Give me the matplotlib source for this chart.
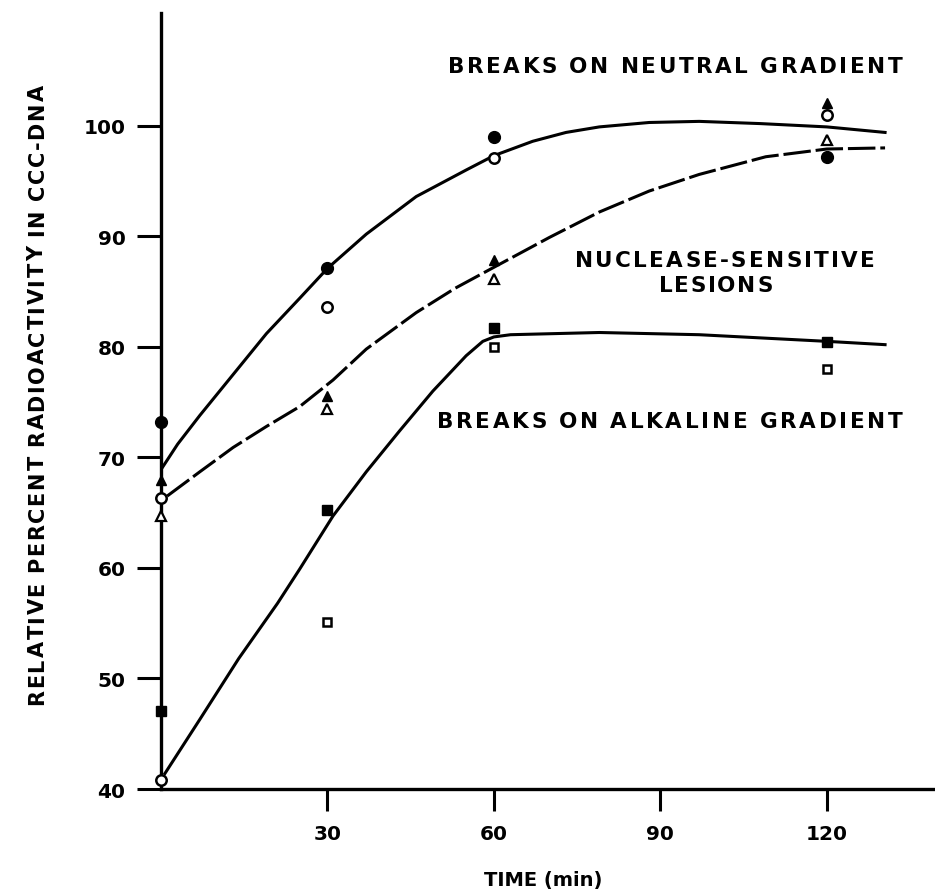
import matplotlib.pyplot as plt

# measured points (time in min, relative percent radioactivity)
t_pts = [0, 30, 60, 120]
neutral_filled = [73.2, 87.1, 99.0, 97.2]
neutral_open = [66.3, 83.6, 97.1, 101.0]
nuclease_filled = [68.0, 75.6, 87.9, 102.1]
nuclease_open = [64.7, 74.4, 86.1, 98.7]
alkaline_filled = [47.1, 65.2, 81.7, 80.4]
alkaline_open = [40.8, 55.1, 80.0, 78.0]

# hand-drawn fitted curves
neutral_t = [0, 3, 7, 13, 19, 25, 30, 37, 46, 55, 60, 67, 73, 79, 88, 97, 108, 120, 130.5]
neutral_y = [68.9, 71.2, 73.8, 77.5, 81.2, 84.4, 87.1, 90.2, 93.6, 96.0, 97.3, 98.6, 99.4,
             99.9, 100.3, 100.4, 100.2, 99.9, 99.4]
nuclease_t = [1.1, 7, 13, 19, 25, 31, 37, 46, 53, 60, 70, 79, 88, 97, 109, 120, 130.5]
nuclease_y = [66.5, 68.7, 70.9, 72.8, 74.6, 77.0, 79.8, 83.1, 85.3, 87.2, 89.9, 92.2, 94.1,
              95.6, 97.2, 97.9, 98.0]
alkaline_t = [0.7, 7, 14, 21, 25, 31, 37, 43, 49, 55, 58, 60, 63, 79, 97, 120, 130.5]
alkaline_y = [41.4, 46.3, 51.8, 56.8, 59.9, 64.7, 68.7, 72.4, 76.0, 79.2, 80.5, 80.9, 81.1,
              81.3, 81.1, 80.5, 80.2]

xticks = [30, 60, 90, 120]
yticks = [40, 50, 60, 70, 80, 90, 100]

plt.rcParams['font.family'] = 'DejaVu Sans'
plt.rcParams['font.weight'] = 'bold'

fig = plt.figure(figsize=(9.35, 8.95), dpi=100)
ax = fig.add_axes([0.1722, 0.1173, 0.8278, 0.867])
renderer = fig.canvas.get_renderer()


def spaced(x, y, s, length_px, size, ha='left', rotation=0, coords='data'):
    # letter-spaced text: each character placed by hand so the string spans length_px
    widths = []
    for c in s:
        if c == ' ':
            widths.append(0.32 * size * fig.dpi / 72)
            continue
        t = fig.text(0, 0, c, fontsize=size, fontweight='bold')
        widths.append(t.get_window_extent(renderer).width)
        t.remove()
    gap = (length_px - sum(widths)) / (len(s) - 1)
    pos = {'left': 0, 'center': -length_px / 2, 'right': -length_px}[ha]
    for c, w in zip(s, widths):
        off = pos * 72 / fig.dpi
        ax.annotate(c, (x, y), xycoords=coords,
                    xytext=(off, 0) if rotation == 0 else (0, off),
                    textcoords='offset points', ha='left', va='center',
                    rotation=rotation, rotation_mode='anchor',
                    fontsize=size, fontweight='bold', annotation_clip=False)
        pos += w + gap


ax.plot(neutral_t, neutral_y, '-', color='black', lw=2.2)
ax.plot(nuclease_t, nuclease_y, color='black', lw=2.2, dashes=(9, 1.6))
ax.plot(alkaline_t, alkaline_y, '-', color='black', lw=2.2)

kw = dict(linestyle='none', color='black', clip_on=False, zorder=5)
ax.plot(t_pts, neutral_filled, marker='o', markersize=8.5, **kw)
ax.plot(t_pts, neutral_open, marker='o', markersize=7.5, markerfacecolor='white',
        markeredgewidth=1.8, **kw)
ax.plot(t_pts, nuclease_filled, marker='^', markersize=7, **kw)
ax.plot(t_pts, nuclease_open, marker='^', markersize=7, markerfacecolor='white',
        markeredgewidth=1.6, **kw)
ax.plot(t_pts, alkaline_filled, marker='s', markersize=6.5, **kw)
ax.plot(t_pts[1:], alkaline_open[1:], marker='s', markersize=6, markerfacecolor='white',
        markeredgewidth=1.8, **kw)
ax.plot(t_pts[:1], alkaline_open[:1], marker='o', markersize=7.5, markerfacecolor='white',
        markeredgewidth=1.8, **kw)

ax.set_xlim(0, 139.5)
ax.set_ylim(40, 110.2)
ax.spines['top'].set_visible(False)
ax.spines['right'].set_visible(False)
ax.spines['left'].set_linewidth(2.4)
ax.spines['bottom'].set_linewidth(2.4)

ax.set_xticks(xticks)
ax.set_yticks(yticks)
ax.tick_params(axis='y', direction='out', length=17, width=2.2, pad=8.6, labelsize=14.5)
ax.tick_params(axis='x', direction='out', length=16, width=2.2, pad=9, labelsize=14.5)
for lab in ax.get_xticklabels() + ax.get_yticklabels():
    lab.set_fontweight('bold')

ax.set_xlabel('TIME (min)', fontsize=14, fontweight='bold')
ax.xaxis.set_label_coords(0.494, -0.116)
ax.xaxis.label.set_va('center')

spaced(-0.1595, 0.509, 'RELATIVE PERCENT RADIOACTIVITY IN CCC-DNA', 620, 15,
       ha='center', rotation=90, coords='axes fraction')

spaced(51.7, 105.4, 'BREAKS ON NEUTRAL GRADIENT', 455, 15.5)
spaced(74.6, 87.9, 'NUCLEASE-SENSITIVE', 300, 15.5)
spaced(89.7, 85.6, 'LESIONS', 114, 15.5)
spaced(49.7, 73.3, 'BREAKS ON ALKALINE GRADIENT', 466, 15.5)

fig.savefig('out.png', dpi=100)
